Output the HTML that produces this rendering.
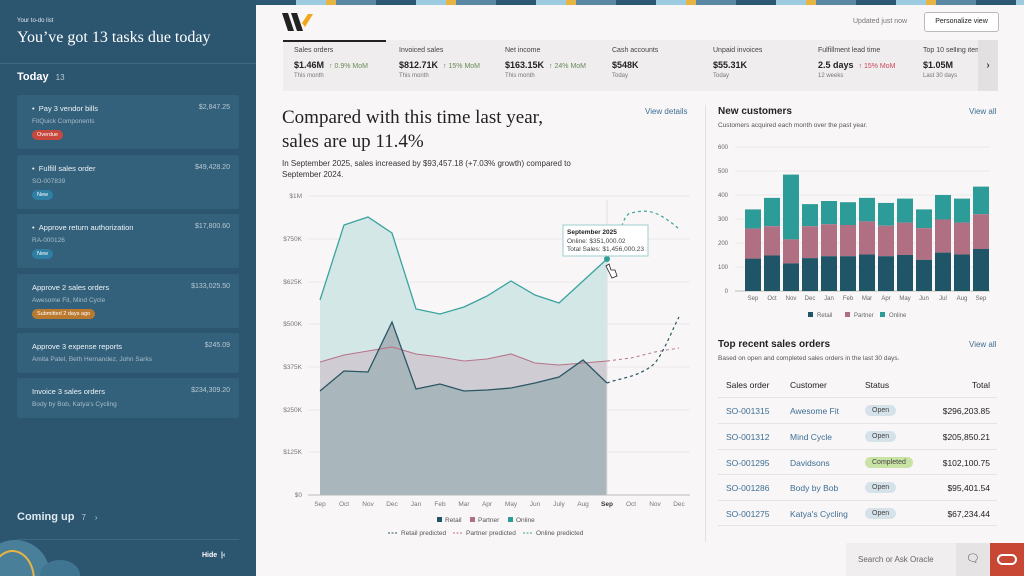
<!DOCTYPE html>
<html><head><meta charset="utf-8"><style>
*{margin:0;padding:0;box-sizing:border-box}
html,body{width:1024px;height:576px;overflow:hidden}
body{font-family:"Liberation Sans",sans-serif;background:#f9f6f7;position:relative}
.abs{position:absolute}
#left{left:0;top:0;width:256px;height:576px;background:#2c5570;color:#fff;overflow:hidden}
.card{position:absolute;left:17px;width:222px;background:#33617c;border-radius:2px}
.card .t{position:absolute;left:15px;top:9px;font-size:7.5px;color:#f0f4f6}
.card .a{position:absolute;right:9px;top:9px;font-size:7px;color:#b8c8d2}
.card .s{position:absolute;left:15px;top:23px;font-size:6.5px;color:#a9bcc8}
.badge{position:absolute;left:15px;top:35px;font-size:5.5px;padding:2px 5px;border-radius:6px;color:#fff}
.kpi{position:absolute;top:47px;font-size:7.5px;color:#333}
.kpi .l{font-size:7px;color:#444}
.kpi .v{font-size:9px;font-weight:bold;margin-top:6px;color:#222}
.kpi .v span{font-weight:normal;font-size:7px;margin-left:5px;color:#6a8a5a}
.kpi .p{font-size:6px;color:#777;margin-top:3px}
.lnk{color:#3d6f94}
.row{position:absolute;left:718px;width:279px;height:26px;border-top:1px solid #e6e3e4;font-size:8.5px}
.row span{position:absolute;top:8px}
.pill{font-size:7px;padding:2px 7px;border-radius:7px;background:#d6e2ea;color:#444}
</style></head><body>
<div class="abs" style="left:256px;top:0;width:768px;height:5px;background:repeating-linear-gradient(90deg,#2d5873 0 40px,#9ccbe0 40px 70px,#e8b544 70px 80px,#5b89a4 80px 120px)"></div>
<div id="left" class="abs">
 <div class="abs" style="left:17px;top:18px;font-size:6px;color:#dde7ed">Your to-do list</div>
 <div class="abs" style="left:17px;top:29px;font-size:16px;font-family:'Liberation Serif',serif;color:#fff">You’ve got 13 tasks due today</div>
 <div class="abs" style="left:0;top:63px;width:256px;height:1px;background:#3f6a86"></div>
 <div class="abs" style="left:17px;top:71px;font-size:11px;font-weight:bold">Today <span style="font-weight:normal;font-size:8px;color:#b8c8d2;margin-left:4px">13</span></div>
 <div class="card" style="top:95px;height:54px"><div class="t">• &nbsp;Pay 3 vendor bills</div><div class="a">$2,847.25</div><div class="s">FitQuick Components</div><div class="badge" style="background:#c9483e">Overdue</div></div>
 <div class="card" style="top:155px;height:54px"><div class="t">• &nbsp;Fulfill sales order</div><div class="a">$49,428.20</div><div class="s">SO-007839</div><div class="badge" style="background:#2f7ea3">New</div></div>
 <div class="card" style="top:214px;height:54px"><div class="t">• &nbsp;Approve return authorization</div><div class="a">$17,800.60</div><div class="s">RA-000126</div><div class="badge" style="background:#2f7ea3">New</div></div>
 <div class="card" style="top:274px;height:54px"><div class="t">Approve 2 sales orders</div><div class="a">$133,025.50</div><div class="s">Awesome Fit, Mind Cycle</div><div class="badge" style="background:#b97a30">Submitted 2 days ago</div></div>
 <div class="card" style="top:333px;height:40px"><div class="t">Approve 3 expense reports</div><div class="a">$245.09</div><div class="s">Amita Patel, Beth Hernandez, John Sarks</div></div>
 <div class="card" style="top:378px;height:40px"><div class="t">Invoice 3 sales orders</div><div class="a">$234,309.20</div><div class="s">Body by Bob, Katya's Cycling</div></div>
 <div class="abs" style="left:17px;top:511px;font-size:11px;font-weight:bold;color:#dfe8ee">Coming up <span style="font-weight:normal;font-size:8px;color:#b8c8d2;margin-left:4px">7 &nbsp; &nbsp;›</span></div>
 <div class="abs" style="left:17px;top:539px;width:222px;height:1px;background:#3b6884"></div>
 <div class="abs" style="left:202px;top:552px;font-size:7px;font-weight:bold">Hide &nbsp;|‹</div>
 <div class="abs" style="left:-20px;top:540px;width:70px;height:70px;border-radius:50%;background:#4a7f9a"></div>
 <div class="abs" style="left:-10px;top:550px;width:45px;height:60px;border-radius:50%;border:2px solid #e8b544"></div>
 <div class="abs" style="left:40px;top:560px;width:40px;height:30px;border-radius:50%;background:#3f7591"></div>
</div>
<svg class="abs" style="left:282px;top:13px" width="32" height="20"><path d="M0 0h6l6 18h-6z M9 0h6l6 18h-6z" fill="#222"/><path d="M20 10l6-9h5l-8 13z" fill="#f0a818"/></svg>
<div class="abs" style="left:853px;top:18px;font-size:7px;color:#777">Updated just now</div>
<div class="abs" style="left:924px;top:12px;width:75px;height:20px;border:1px solid #bbb;border-radius:3px;background:#fff;font-size:7px;text-align:center;line-height:18px;color:#222">Personalize view</div>
<div class="abs" style="left:283px;top:40px;width:715px;height:51px;background:#efedee"></div>
<div class="abs" style="left:283px;top:40px;width:103px;height:2px;background:#222"></div>
<div class="abs" style="left:978px;top:40px;width:20px;height:51px;background:#e2e0e1;font-size:10px;text-align:center;line-height:51px">›</div>
<div class="kpi" style="left:294px"><div class="l">Sales orders</div><div class="v">$1.46M<span>↑ 0.9% MoM</span></div><div class="p">This month</div></div>
<div class="kpi" style="left:399px"><div class="l">Invoiced sales</div><div class="v">$812.71K<span>↑ 15% MoM</span></div><div class="p">This month</div></div>
<div class="kpi" style="left:505px"><div class="l">Net income</div><div class="v">$163.15K<span>↑ 24% MoM</span></div><div class="p">This month</div></div>
<div class="kpi" style="left:612px"><div class="l">Cash accounts</div><div class="v">$548K</div><div class="p">Today</div></div>
<div class="kpi" style="left:713px"><div class="l">Unpaid invoices</div><div class="v">$55.31K</div><div class="p">Today</div></div>
<div class="kpi" style="left:818px"><div class="l">Fulfillment lead time</div><div class="v">2.5 days<span style="color:#c9485a">↑ 15% MoM</span></div><div class="p">12 weeks</div></div>
<div class="kpi" style="left:923px;width:55px;overflow:hidden;white-space:nowrap"><div class="l">Top 10 selling items</div><div class="v">$1.05M</div><div class="p">Last 30 days</div></div>
<div class="abs" style="left:282px;top:106px;font-size:19px;line-height:24px;font-family:'Liberation Serif',serif;color:#222">Compared with this time last year,<br>sales are up 11.4%</div>
<div class="abs lnk" style="left:645px;top:107px;font-size:8px">View details</div>
<div class="abs" style="left:282px;top:158px;font-size:8px;line-height:11px;color:#333">In September 2025, sales increased by $93,457.18 (+7.03% growth) compared to<br>September 2024.</div>
<div class="abs" style="left:705px;top:105px;width:1px;height:437px;background:#e4e1e2"></div>
<svg class="abs" style="left:0;top:0" width="1024" height="576" font-family="Liberation Sans" font-size="6.5" fill="#777">
<g stroke="#ece8e9" stroke-width="1">
<line x1="308" x2="690" y1="196" y2="196"/><line x1="308" x2="690" y1="239" y2="239"/><line x1="308" x2="690" y1="282" y2="282"/><line x1="308" x2="690" y1="324" y2="324"/><line x1="308" x2="690" y1="367" y2="367"/><line x1="308" x2="690" y1="410" y2="410"/><line x1="308" x2="690" y1="452" y2="452"/></g>
<line x1="308" x2="690" y1="495" y2="495" stroke="#bbb"/>
<g text-anchor="end"><text x="302" y="198">$1M</text><text x="302" y="241">$750K</text><text x="302" y="284">$625K</text><text x="302" y="326">$500K</text><text x="302" y="369">$375K</text><text x="302" y="412">$250K</text><text x="302" y="454">$125K</text><text x="302" y="497">$0</text></g>
<polygon fill="#d3e7e7" points="320,495 320,300 344,225 368,217 392,233 416,309 440,314 464,307 487,296 511,281 535,295 559,303 583,281 607,259 607,495"/>
<polygon fill="#cfcdd3" points="320,495 320,362 344,355 368,351 392,347 416,354 440,357 464,361 487,359 511,354 535,363 559,365 583,363 607,361 607,495"/>
<polygon fill="#a9b7bd" points="320,495 320,391 344,371 368,372 392,322 416,389 440,384 464,391 487,390 511,388 535,383 559,377 583,360 607,383 607,495"/>
<line x1="607" x2="607" y1="200" y2="495" stroke="#e0e0e0"/>
<polyline fill="none" stroke="#3aa39e" stroke-width="1.3" points="320,300 344,225 368,217 392,233 416,309 440,314 464,307 487,296 511,281 535,295 559,303 583,281 607,259"/>
<polyline fill="none" stroke="#b87388" stroke-width="1.1" points="320,362 344,355 368,351 392,347 416,354 440,357 464,361 487,359 511,354 535,363 559,365 583,363 607,361"/>
<polyline fill="none" stroke="#2a5663" stroke-width="1.3" points="320,391 344,371 368,372 392,322 416,389 440,384 464,391 487,390 511,388 535,383 559,377 583,360 607,383"/>
<path d="M607 259 C620 240 622 214 631 213 C645 210 655 208 679 229" fill="none" stroke="#3aa39e" stroke-width="1.2" stroke-dasharray="3,3"/>
<polyline fill="none" stroke="#b87388" stroke-width="1" stroke-dasharray="3,3" points="607,361 631,358 655,352 679,348"/>
<path d="M607 383 C620 378 640 377 655 363 C665 350 672 330 679 317" fill="none" stroke="#2a5663" stroke-width="1.2" stroke-dasharray="3,3"/>
<circle cx="607" cy="259" r="3" fill="#2f9d99"/>
<rect x="563" y="225" width="85" height="31" fill="#fff" stroke="#9ccfcd"/>
<text x="567" y="234" font-weight="bold" fill="#222">September 2025</text>
<text x="567" y="243" fill="#444">Online: $351,000.02</text>
<text x="567" y="251" fill="#444">Total Sales: $1,456,000.23</text>
<path d="M606 266 l3 -2 2 6 4 0 2 6 -5 2 z" fill="#fff" stroke="#222" stroke-width="0.8"/>
<g text-anchor="middle"><text x="320" y="506">Sep</text><text x="344" y="506">Oct</text><text x="368" y="506">Nov</text><text x="392" y="506">Dec</text><text x="416" y="506">Jan</text><text x="440" y="506">Feb</text><text x="464" y="506">Mar</text><text x="487" y="506">Apr</text><text x="511" y="506">May</text><text x="535" y="506">Jun</text><text x="559" y="506">July</text><text x="583" y="506">Aug</text><text x="607" y="506" font-weight="bold" fill="#333">Sep</text><text x="631" y="506">Oct</text><text x="655" y="506">Nov</text><text x="679" y="506">Dec</text></g>
<rect x="437" y="517" width="5" height="5" fill="#1f5566"/><text x="445" y="522" fill="#555">Retail</text>
<rect x="470" y="517" width="5" height="5" fill="#b06f82"/><text x="478" y="522" fill="#555">Partner</text>
<rect x="508" y="517" width="5" height="5" fill="#2d9b98"/><text x="516" y="522" fill="#555">Online</text>
<line x1="388" x2="398" y1="533" y2="533" stroke="#2a5663" stroke-dasharray="2,1.5"/><text x="401" y="535" fill="#555">Retail predicted</text>
<line x1="453" x2="463" y1="533" y2="533" stroke="#b87388" stroke-dasharray="2,1.5"/><text x="466" y="535" fill="#555">Partner predicted</text>
<line x1="523" x2="533" y1="533" y2="533" stroke="#3aa39e" stroke-dasharray="2,1.5"/><text x="536" y="535" fill="#555">Online predicted</text>
</svg>
<div class="abs" style="left:718px;top:106px;font-size:10px;font-weight:bold;color:#222">New customers</div>
<div class="abs lnk" style="left:969px;top:107px;font-size:8px">View all</div>
<div class="abs" style="left:718px;top:122px;font-size:6.5px;color:#555">Customers acquired each month over the past year.</div>
<svg class="abs" style="left:700px;top:130px" width="324" height="195" font-family="Liberation Sans" font-size="6" fill="#666">
<g id="bc"></g>
</svg>
<div class="abs" style="left:718px;top:339px;font-size:10px;font-weight:bold;color:#222">Top recent sales orders</div>
<div class="abs lnk" style="left:969px;top:340px;font-size:8px">View all</div>
<div class="abs" style="left:718px;top:355px;font-size:6.5px;color:#555">Based on open and completed sales orders in the last 30 days.</div>
<div class="abs" style="left:726px;top:380px;font-size:8.5px;color:#222">Sales order</div>
<div class="abs" style="left:790px;top:380px;font-size:8.5px;color:#222">Customer</div>
<div class="abs" style="left:865px;top:380px;font-size:8.5px;color:#222">Status</div>
<div class="abs" style="left:940px;top:380px;width:50px;text-align:right;font-size:8.5px;color:#222">Total</div>
<div class="row" style="top:397px"><span class="lnk" style="left:8px">SO-001315</span><span class="lnk" style="left:72px">Awesome Fit</span><span class="pill" style="left:147px;top:7px">Open</span><span style="right:7px;color:#222">$296,203.85</span></div>
<div class="row" style="top:423px"><span class="lnk" style="left:8px">SO-001312</span><span class="lnk" style="left:72px">Mind Cycle</span><span class="pill" style="left:147px;top:7px">Open</span><span style="right:7px;color:#222">$205,850.21</span></div>
<div class="row" style="top:449px"><span class="lnk" style="left:8px">SO-001295</span><span class="lnk" style="left:72px">Davidsons</span><span class="pill" style="left:147px;top:7px;background:#c9e3a5">Completed</span><span style="right:7px;color:#222">$102,100.75</span></div>
<div class="row" style="top:474px"><span class="lnk" style="left:8px">SO-001286</span><span class="lnk" style="left:72px">Body by Bob</span><span class="pill" style="left:147px;top:7px">Open</span><span style="right:7px;color:#222">$95,401.54</span></div>
<div class="row" style="top:500px;border-bottom:1px solid #e6e3e4"><span class="lnk" style="left:8px">SO-001275</span><span class="lnk" style="left:72px">Katya's Cycling</span><span class="pill" style="left:147px;top:7px">Open</span><span style="right:7px;color:#222">$67,234.44</span></div>
<div class="abs" style="left:846px;top:543px;width:110px;height:33px;background:#f0eeee;font-size:8px;color:#666;line-height:33px;padding-left:12px">Search or Ask Oracle</div>
<div class="abs" style="left:956px;top:543px;width:34px;height:33px;background:#e5e3e3;text-align:center;line-height:33px;font-size:11px;color:#444">🗨</div>
<div class="abs" style="left:990px;top:543px;width:34px;height:33px;background:#c74634"><div class="abs" style="left:7px;top:11px;width:20px;height:11px;border:2.5px solid #fff;border-radius:6px"></div></div>
<script>
var d=[[135,260,340],[148,270,388],[115,215,485],[137,270,362],[145,278,375],[145,275,370],[152,290,388],[145,272,367],[150,285,385],[130,262,340],[160,298,400],[152,285,385],[175,320,435]];
var m=["Sep","Oct","Nov","Dec","Jan","Feb","Mar","Apr","May","Jun","Jul","Aug","Sep"];
var s='',oy=-130,Y=function(v){return 291-v*0.24+oy};
for(var i=0;i<=6;i++){var y=Y(i*100);s+='<line x1="35" x2="290" y1="'+y+'" y2="'+y+'" stroke="'+(i?'#ece8e9':'#bbb')+'"/><text x="28" y="'+(y+2)+'" text-anchor="end">'+i*100+'</text>';}
d.forEach(function(r,i){var x=753+i*19-700-8;
s+='<rect x="'+x+'" y="'+Y(r[2])+'" width="16" height="'+(r[2]-r[1])*0.24+'" fill="#2d9b98"/>';
s+='<rect x="'+x+'" y="'+Y(r[1])+'" width="16" height="'+(r[1]-r[0])*0.24+'" fill="#b06f82"/>';
s+='<rect x="'+x+'" y="'+Y(r[0])+'" width="16" height="'+r[0]*0.24+'" fill="#1f5566"/>';
s+='<text x="'+(x+8)+'" y="'+(Y(0)+9)+'" text-anchor="middle">'+m[i]+'</text>';});
s+='<rect x="108" y="182" width="5" height="5" fill="#1f5566"/><text x="117" y="187">Retail</text><rect x="145" y="182" width="5" height="5" fill="#b06f82"/><text x="154" y="187">Partner</text><rect x="180" y="182" width="5" height="5" fill="#2d9b98"/><text x="189" y="187">Online</text>';
document.getElementById('bc').innerHTML=s;
</script>
</body></html>
